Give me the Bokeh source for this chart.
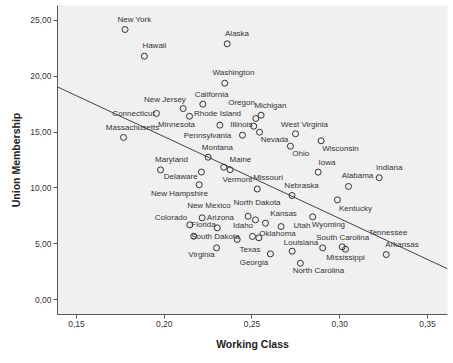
import numpy as np
from bokeh.plotting import figure
from bokeh.models import ColumnDataSource, FixedTicker, CustomJSTickFormatter, Range1d
from bokeh.core.properties import value
from bokeh.embed import file_html
from bokeh.resources import INLINE

# ---- data ----
states = ["New York", "Hawaii", "Alaska", "Washington", "California", "New Jersey",
          "Connecticut", "Rhode Island", "Massachusetts", "Minnesota", "Pennsylvania",
          "Illinois", "Oregon", "Michigan", "Nevada", "West Virginia", "Ohio", "Wisconsin",
          "Iowa", "Indiana", "Alabama", "Kentucky", "Nebraska", "Montana", "Maryland",
          "Delaware", "Maine", "Vermont", "Missouri", "New Hampshire", "Florida", "Arizona",
          "Colorado", "New Mexico", "North Dakota", "Kansas", "Idaho", "Texas", "Oklahoma",
          "Utah", "Wyoming", "South Dakota", "Virginia", "Georgia", "Louisiana",
          "North Carolina", "South Carolina", "Tennessee", "Mississippi", "Arkansas"]
working_class = [0.1777, 0.1887, 0.2359, 0.2345, 0.2220, 0.2108,
                 0.1956, 0.2144, 0.1768, 0.2317, 0.2446,
                 0.2510, 0.2522, 0.2552, 0.2543, 0.2748, 0.2719, 0.2894,
                 0.2877, 0.3225, 0.3050, 0.2987, 0.2728, 0.2250, 0.1979,
                 0.2212, 0.2339, 0.2375, 0.2530, 0.2199, 0.2146, 0.2216,
                 0.2302, 0.2478, 0.2520, 0.2577, 0.2416, 0.2503, 0.2539,
                 0.2666, 0.2846, 0.2168, 0.2298, 0.2605, 0.2729,
                 0.2776, 0.2903, 0.3014, 0.3033, 0.3265]
union_membership = [24.19, 21.80, 22.91, 19.38, 17.50, 17.11,
                    16.67, 16.42, 14.52, 15.62, 14.72,
                    15.53, 16.22, 16.51, 14.99, 14.85, 13.74, 14.22,
                    11.41, 10.91, 10.13, 8.93, 9.32, 12.75, 11.62,
                    11.42, 11.85, 11.63, 9.90, 10.28, 6.69, 7.32,
                    6.42, 7.46, 7.14, 6.84, 5.38, 5.65, 5.53,
                    6.54, 7.41, 5.67, 4.63, 4.09, 4.33,
                    3.25, 4.63, 4.72, 4.51, 4.03]
x_ticks = [0.15, 0.20, 0.25, 0.30, 0.35]
y_ticks = [0, 5, 10, 15, 20, 25]

# label placement offsets in screen pixels (styling only)
label_dx = [9.3, 10, 9.8, 8.7, 8.7, -18.2,
            -23, 28, 9, -43.3, -35,
            -12.3, -14.3, 9.3, 15, 9, 10.3, 19.3,
            8.8, 10, 9, 18, 9.5, 9.3, 11,
            -20.7, 16.7, 7.4, 10.8, -19.7, 13.7, 18.3,
            -46.2, -39.2, 1.5, 18, 5.8, -2.5, 18.7,
            20.8, 15.7, 21.7, -15, -16.5, 8.8,
            18, 20, 45.8, 0, 15.8]
label_dy = [-10, -10.7, -10.3, -10.7, -9.7, -9,
            0, -2.7, -10.3, -0.7, 0.3,
            -1.4, -16.3, -10, 7.3, -9.3, 7.8, 7.7,
            -9.7, -10.3, -10.7, 8.4, -10, -10, -10.3,
            4.2, -8.1, 10.1, -11.2, 8.4, 0, 0,
            -10.6, -10.4, -17.6, -9.4, -14, 13.3, -4,
            -0.7, 7.7, 0, 7, 8.4, -9.2,
            7.3, -10, -14.6, 8, -10]

x_lo, x_hi = 0.1392, 0.3614
y_lo, y_hi = -1.34, 26.34

src = ColumnDataSource(dict(x=working_class, y=union_membership, name=states,
                            dx=label_dx, dy=label_dy))

p = figure(width=453, height=363, output_backend="svg", toolbar_location=None,
           x_range=Range1d(x_lo, x_hi), y_range=Range1d(y_lo, y_hi),
           min_border_left=57, min_border_right=6, min_border_top=5, min_border_bottom=49)
p.background_fill_color = "#F0F0F0"
p.border_fill_color = "white"
p.outline_line_color = None
p.xgrid.visible = False
p.ygrid.visible = False

fmt = CustomJSTickFormatter(code="return tick.toFixed(2).replace('.', ',');")
for ax, ticks in ((p.xaxis[0], x_ticks), (p.yaxis[0], y_ticks)):
    ax.ticker = FixedTicker(ticks=ticks)
    ax.formatter = fmt
    ax.minor_tick_line_color = None
    ax.major_tick_in = 0
    ax.major_tick_out = 4
    ax.axis_line_color = "#555555"
    ax.major_tick_line_color = "#555555"
    ax.major_label_text_font = "Liberation Sans"
    ax.major_label_text_font_size = "8.5px"
    ax.major_label_text_color = "#333333"
    ax.axis_label_text_font = "Liberation Sans"
    ax.axis_label_text_font_size = "10.5px"
    ax.axis_label_text_font_style = "bold"
    ax.axis_label_text_color = "#222222"
    ax.major_label_standoff = 2

p.xaxis.axis_label = "Working Class"
p.yaxis.axis_label = "Union Membership"
p.xaxis.axis_label_standoff = 8
p.yaxis.axis_label_standoff = 5

# least-squares fit line
slope, intercept = np.polyfit(working_class, union_membership, 1)
p.line([x_lo, x_hi], [intercept + slope * x_lo, intercept + slope * x_hi],
       line_color="#444444", line_width=1)

p.scatter("x", "y", source=src, marker="circle", size=6, fill_color=None,
          line_color="#333333", line_width=1)

p.text("x", "y", text="name", source=src, x_offset="dx", y_offset="dy",
       text_font=value("Liberation Sans"), text_font_size="8px", text_color="#333333",
       text_align="center", text_baseline="middle")

open("out.html", "w").write(file_html(p, INLINE))
